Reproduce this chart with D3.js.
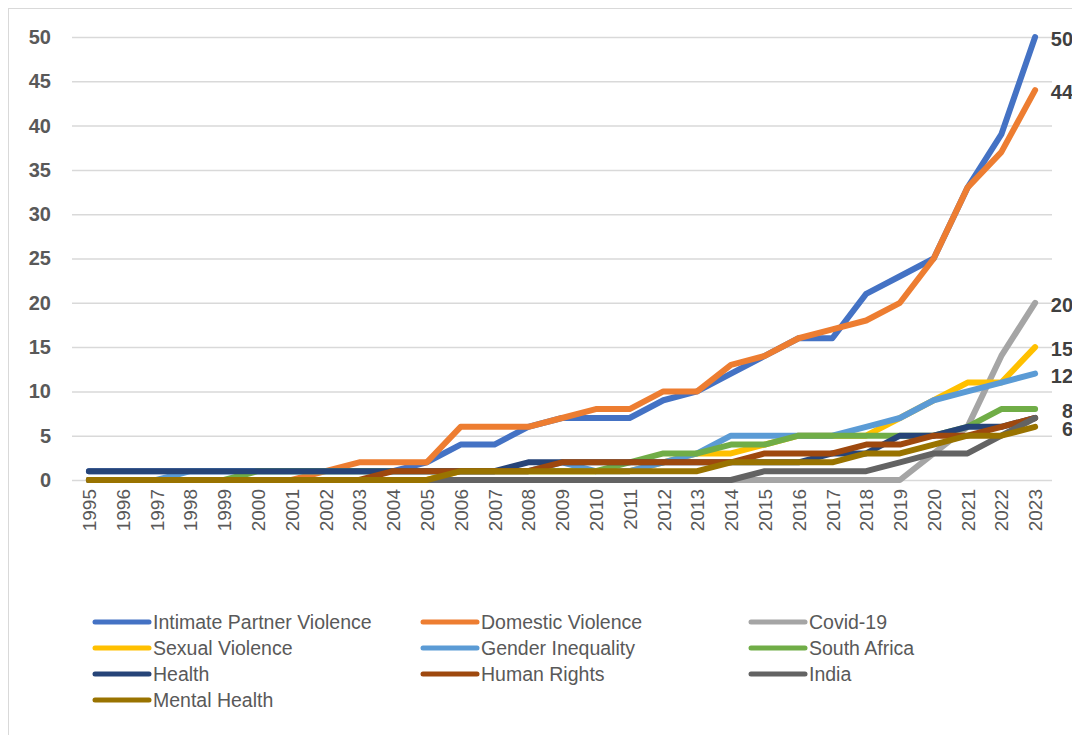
<!DOCTYPE html>
<html>
<head>
<meta charset="utf-8">
<script src="https://cdn.jsdelivr.net/npm/d3@7"></script>
<style>
  html, body { margin: 0; padding: 0; background: #fff; }
  svg { display: block; font-family: "Liberation Sans", Arial, sans-serif; }
</style>
</head>
<body>
<svg id="chart" width="1072" height="735"></svg>
<script>
// ── Data ──
const years = d3.range(1995, 2024).map(String);

const ipv       = [1,1,1,1,1,1,1,1,1,1,2,4,4,6,7,7,7,9,10,12,14,16,16,21,23,25,33,39,50];
const domestic  = [0,0,0,0,0,0,0,1,2,2,2,6,6,6,7,8,8,10,10,13,14,16,17,18,20,25,33,37,44];
const covid     = [0,0,0,0,0,0,0,0,0,0,0,0,0,0,0,0,0,0,0,0,0,0,0,0,0,3,6,14,20];
const sexual    = [0,0,0,0,0,0,0,0,0,0,0,1,1,1,1,1,1,2,3,3,4,5,5,5,7,9,11,11,15];
const gender    = [0,0,0,1,1,1,1,1,1,1,1,1,1,1,2,1,1,2,3,5,5,5,5,6,7,9,10,11,12];
const safrica   = [0,0,0,0,0,1,1,1,1,1,1,1,1,1,1,1,2,3,3,4,4,5,5,5,5,5,6,8,8];
const health    = [1,1,1,1,1,1,1,1,1,1,1,1,1,2,2,2,2,2,2,2,2,2,3,3,5,5,6,6,7];
const rights    = [0,0,0,0,0,0,0,0,0,1,1,1,1,1,2,2,2,2,2,2,3,3,3,4,4,5,5,6,7];
const india     = [0,0,0,0,0,0,0,0,0,0,0,0,0,0,0,0,0,0,0,0,1,1,1,1,2,3,3,5,7];
const mental    = [0,0,0,0,0,0,0,0,0,0,0,1,1,1,1,1,1,1,1,2,2,2,2,3,3,4,5,5,6];

const yTicks = [0,5,10,15,20,25,30,35,40,45,50];

const series = [
  { name: 'Intimate Partner Violence', values: ipv,      color: '#4472C4', label: true },
  { name: 'Domestic Violence',         values: domestic, color: '#ED7D31', label: true },
  { name: 'Covid-19',                  values: covid,    color: '#A5A5A5', label: true },
  { name: 'Sexual Violence',           values: sexual,   color: '#FFC000', label: true },
  { name: 'Gender Inequality',         values: gender,   color: '#5B9BD5', label: true },
  { name: 'South Africa',              values: safrica,  color: '#70AD47', label: true },
  { name: 'Health',                    values: health,   color: '#264478', label: false },
  { name: 'Human Rights',              values: rights,   color: '#9E480E', label: false },
  { name: 'India',                     values: india,    color: '#636363', label: false },
  { name: 'Mental Health',             values: mental,   color: '#997300', label: true }
];

// ── Layout ──
const PLOT = { left: 72, right: 1052, top: 37, bottom: 480 };
const svg = d3.select('#chart');

// chart area border (runs off the right/bottom edge of the picture)
svg.append('rect')
  .attr('x', 8.5).attr('y', 8.5)
  .attr('width', 1200).attr('height', 900)
  .attr('fill', 'none').attr('stroke', '#d9d9d9').attr('stroke-width', 1);

const x = d3.scalePoint().domain(years).range([PLOT.left, PLOT.right]).padding(0.5);
const y = d3.scaleLinear().domain([0, 50]).range([PLOT.bottom, PLOT.top]);

// gridlines + y labels
const yAxis = svg.append('g')
  .attr('transform', `translate(${PLOT.left},0)`)
  .call(d3.axisLeft(y).tickValues(yTicks).tickSize(-(PLOT.right - PLOT.left)).tickPadding(21));
yAxis.select('.domain').remove();
yAxis.selectAll('.tick line').attr('stroke', '#d9d9d9').attr('stroke-width', 1.5);
yAxis.selectAll('.tick text')
  .attr('fill', '#595959').attr('font-size', 20).attr('font-weight', 'bold')
  .attr('font-family', '"Liberation Sans", Arial, sans-serif');

// x labels (rotated)
const xAxis = svg.append('g')
  .attr('transform', `translate(0,${PLOT.bottom})`)
  .call(d3.axisBottom(x).tickSize(0).tickPadding(0));
xAxis.select('.domain').remove();
xAxis.selectAll('.tick text')
  .attr('fill', '#595959').attr('font-size', 19)
  .attr('font-family', '"Liberation Sans", Arial, sans-serif')
  .attr('text-anchor', 'end')
  .attr('transform', 'rotate(-90)')
  .attr('x', -9).attr('y', 0).attr('dy', '0.35em');

// lines
const line = d3.line()
  .x((d, i) => x(years[i]))
  .y(d => y(d));

svg.append('g').attr('class', 'lines')
  .selectAll('path')
  .data(series).join('path')
  .attr('d', d => line(d.values))
  .attr('fill', 'none')
  .attr('stroke', d => d.color)
  .attr('stroke-width', 6)
  .attr('stroke-linejoin', 'round')
  .attr('stroke-linecap', 'round');

// end-of-line data labels
const last = years.length - 1;
svg.append('g').attr('class', 'labels')
  .selectAll('text')
  .data(series.filter(s => s.label)).join('text')
  .attr('x', x(years[last]) + 38)
  .attr('y', d => y(d.values[last]) + 2)
  .attr('dy', '0.35em')
  .attr('text-anchor', 'end')
  .attr('font-size', 20).attr('font-weight', 'bold')
  .attr('fill', '#404040')
  .text(d => d.values[last]);

// legend: 3 columns
const LEG = { x0: 95, colW: 328, y0: 622, rowH: 26, sw: 54 };
const leg = svg.append('g').attr('class', 'legend')
  .selectAll('g')
  .data(series).join('g')
  .attr('transform', (d, i) => `translate(${LEG.x0 + (i % 3) * LEG.colW},${LEG.y0 + Math.floor(i / 3) * LEG.rowH})`);

leg.append('line')
  .attr('x1', 0).attr('x2', LEG.sw)
  .attr('stroke', d => d.color).attr('stroke-width', 5)
  .attr('stroke-linecap', 'round');

leg.append('text')
  .attr('x', LEG.sw + 4).attr('dy', '0.35em')
  .attr('font-size', 19.5).attr('fill', '#595959')
  .text(d => d.name);
</script>
</body>
</html>
